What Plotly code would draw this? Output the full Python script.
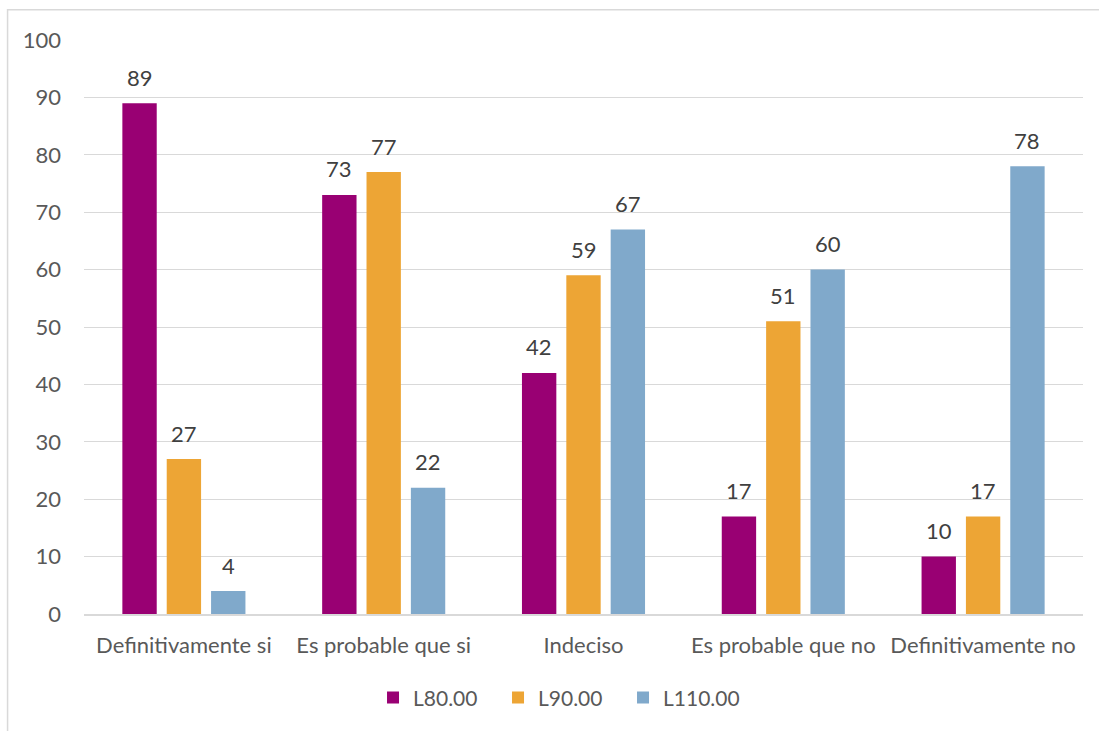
import plotly.graph_objects as go

categories = ["Definitivamente si", "Es probable que si", "Indeciso",
              "Es probable que no", "Definitivamente no"]
series_names = ["L80.00", "L90.00", "L110.00"]
l80 = [89, 73, 42, 17, 10]
l90 = [27, 77, 59, 51, 17]
l110 = [4, 22, 67, 60, 78]
colors = ["#990073", "#EDA535", "#80A9CB"]
y_ticks = [0, 10, 20, 30, 40, 50, 60, 70, 80, 90, 100]

font_family = "Lato, Open Sans, sans-serif"
font_size = 22
text_color = "#595959"
label_color = "#404040"

positions = list(range(len(categories)))
bar_w = 0.172     # width of one bar, in category units
slot_w = 0.222    # spacing between bar centres within a group

fig = go.Figure()
annotations = []
for k, (name, vals, col) in enumerate(zip(series_names, [l80, l90, l110], colors)):
    shift = (k - 1) * slot_w
    fig.add_trace(go.Bar(
        x=positions, y=vals, name=name,
        width=bar_w, offset=shift - bar_w / 2,
        marker=dict(color=col, line=dict(width=0)),
    ))
    for p, v in zip(positions, vals):
        annotations.append(dict(
            x=p + shift, y=v, xref="x", yref="y", text=str(v), showarrow=False,
            yanchor="middle", yshift=26,
            font=dict(size=font_size, color=label_color, family=font_family),
        ))

fig.update_layout(
    width=1099, height=731,
    margin=dict(l=84, r=16, t=40, b=117),
    paper_bgcolor="white", plot_bgcolor="white",
    barmode="overlay",
    font=dict(family=font_family, size=font_size, color=text_color),
    legend=dict(orientation="h", x=0.477, xanchor="center", y=-0.146, yanchor="middle",
                font=dict(size=21, color=text_color), traceorder="normal",
                entrywidth=80, entrywidthmode="pixels", itemwidth=30),
    showlegend=True,
    annotations=annotations,
    shapes=[dict(type="rect", xref="paper", yref="paper",
                 x0=-0.0765, x1=1.2, y0=-0.5, y1=1.0525,
                 line=dict(color="#D9D9D9", width=1.5), layer="below")],
)
fig.update_xaxes(range=[-0.5, 4.5], tickvals=positions, ticktext=categories,
                 showgrid=False, showline=True, linecolor="#D9D9D9", linewidth=1.5,
                 zeroline=False, ticks="", tickfont=dict(size=font_size, color=text_color),
                 ticklabelstandoff=11)
fig.update_yaxes(range=[0, 100], tickvals=y_ticks, showgrid=True, gridcolor="#D9D9D9",
                 gridwidth=1, zeroline=False, showline=False, ticks="",
                 tickfont=dict(size=font_size, color=text_color), ticklabelstandoff=22)

fig.write_html("out.html")
